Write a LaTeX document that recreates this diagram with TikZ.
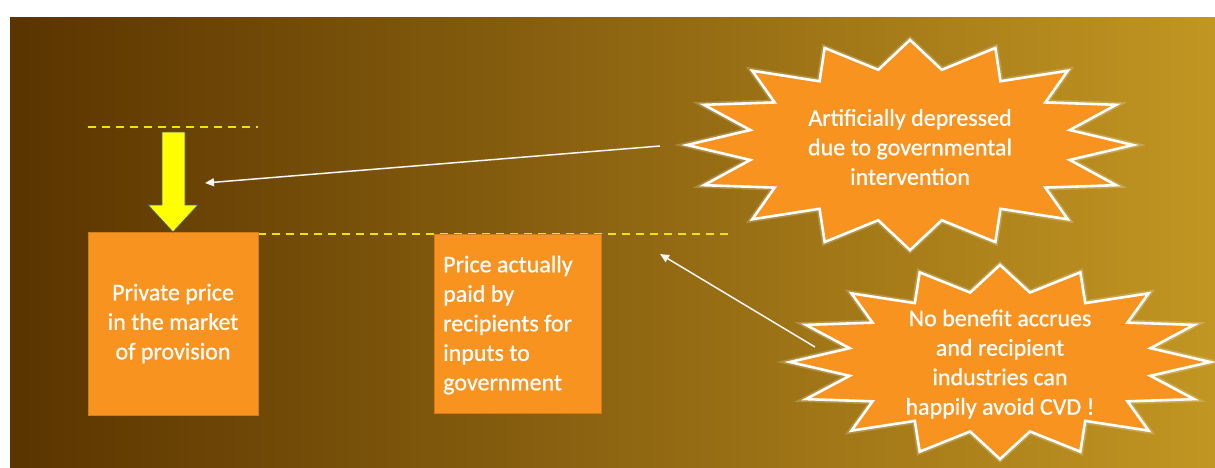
\documentclass[tikz,border=0pt]{standalone}
\usepackage{fontspec}
\setmainfont{Carlito}
\newfontfamily\slidefont{Carlito}[FakeBold=0.7]
\usetikzlibrary{arrows.meta}
\definecolor{bgL}{RGB}{90,52,0}
\definecolor{bgM}{RGB}{128,88,0}
\definecolor{bgR}{RGB}{194,150,34}
\definecolor{boxorange}{RGB}{247,147,30}
\definecolor{dashyellow}{RGB}{235,230,0}
\definecolor{arrowyellow}{RGB}{255,255,0}
\definecolor{arrowedge}{RGB}{70,95,125}
\newcommand\drawburst[4]{% cx, cy, rx, ry
  \draw[white, line width=6pt, opacity=0.2, line join=miter]
    ({#1},{#2-#4}) \foreach \k in {1,...,31} {
      -- ({#1+(1-0.27*mod(\k,2))*#3*cos(90+11.25*\k)},{#2-(1-0.27*mod(\k,2))*#4*sin(90+11.25*\k)}) } -- cycle;
  \draw[burststyle]
    ({#1},{#2-#4}) \foreach \k in {1,...,31} {
      -- ({#1+(1-0.27*mod(\k,2))*#3*cos(90+11.25*\k)},{#2-(1-0.27*mod(\k,2))*#4*sin(90+11.25*\k)}) } -- cycle;
}
\tikzset{
  burststyle/.style={fill=boxorange, draw=white, line width=2.6pt, line join=miter},
  pbox/.style={fill=boxorange, draw=boxorange!85!black, line width=0.6pt, inner sep=0pt},
  wtext/.style={text=white, font=\slidefont\fontsize{24}{29.5}\selectfont},
  guide/.style={dashyellow, line width=1.6pt, dash pattern=on 8pt off 6pt},
  conn/.style={draw=white!92!gray, line width=1.5pt, -{Triangle[length=9pt,width=8pt]}},
}
\begin{document}
\begin{tikzpicture}[x=1pt,y=-1pt]
  \useasboundingbox (0,0) rectangle (1215,467);
  \fill[white] (0,0) rectangle (1215,467);
  \shade[left color=bgL, middle color=bgM, right color=bgR] (10,17) rectangle (1215,467);

  % dashed guide lines
  \coordinate (g1a) at (88,127);
  \coordinate (g1b) at (258,127);
  \coordinate (g2a) at (258,234);
  \coordinate (g2b) at (728,234);
  \draw[guide] (g1a) -- (g1b);
  \draw[guide] (g2a) -- (g2b);

  % boxes
  \node[pbox, minimum width=170pt, minimum height=183pt, wtext, align=center] (box1) at (173,323.5)
    {Private price\\in the market\\of provision};
  \node[pbox, minimum width=167pt, minimum height=179pt] (box2) at (517.5,323.5) {};
  \node[wtext, align=left, anchor=west, inner sep=0pt] (box2text) at (443,325)
    {Price actually\\paid by\\recipients for\\inputs to\\government};

  % yellow down arrow
  \coordinate (ya1) at (162,132);
  \coordinate (ya2) at (185,132);
  \coordinate (ya3) at (185,205);
  \coordinate (ya4) at (198,205);
  \coordinate (yatip) at (173,232);
  \coordinate (ya5) at (148,205);
  \coordinate (ya6) at (162,205);
  \draw[fill=arrowyellow, draw=arrowedge, line width=0.8pt, line join=miter]
    (ya1) -- (ya2) -- (ya3) -- (ya4) -- (yatip) -- (ya5) -- (ya6) -- cycle;

  % starbursts
  \drawburst{910}{145}{223}{105}
  \node[wtext, align=center] (burst1) at (910,147)
    {Artificially depressed\\due to governmental\\intervention};
  \drawburst{1000}{362}{210}{97}
  \node[wtext, align=center] (burst2) at (1000,364)
    {No benefit accrues\\and recipient\\industries can\\happily avoid CVD !};

  % connectors
  \coordinate (c1s) at (660,146);
  \coordinate (c1e) at (205,183);
  \coordinate (c2s) at (815,347);
  \coordinate (c2e) at (660,254);
  \draw[conn] (c1s) -- (c1e);
  \draw[conn] (c2s) -- (c2e);
\end{tikzpicture}
\end{document}
